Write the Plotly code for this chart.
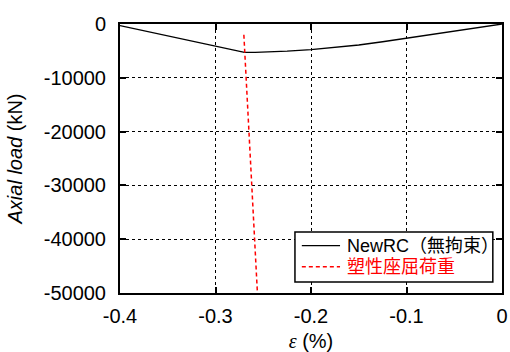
import plotly.graph_objects as go

# NewRC (unconfined) curve
eps_newrc = [-0.4, -0.2697, -0.2585, -0.25, -0.225, -0.2, -0.175, -0.15, -0.125, -0.1, -0.075, -0.05, -0.025, 0.0]
load_newrc = [-300, -5260, -5260, -5230, -5050, -4780, -4400, -3900, -3300, -2620, -2000, -1350, -680, 0]

# Plastic buckling load line
eps_pb = [-0.2703, -0.2561]
load_pb = [-2000, -50000]

x_ticks = [-0.4, -0.3, -0.2, -0.1, 0]
x_ticklabels = ["-0.4", "-0.3", "-0.2", "-0.1", "0"]
y_ticks = [0, -10000, -20000, -30000, -40000, -50000]
y_ticklabels = ["0", "-10000", "-20000", "-30000", "-40000", "-50000"]

series_names = ["NewRC（無拘束）", "塑性座屈荷重"]
series_colors = ["black", "red"]

FONT = "Arial, 'Liberation Sans', 'Noto Sans CJK JP', sans-serif"

fig = go.Figure()
fig.add_trace(go.Scatter(x=eps_newrc, y=load_newrc, mode="lines",
                         line=dict(color=series_colors[0], width=1.3),
                         name=series_names[0], showlegend=False))
fig.add_trace(go.Scatter(x=eps_pb, y=load_pb, mode="lines",
                         line=dict(color=series_colors[1], width=1.5, dash="4px,3px"),
                         name=series_names[1], showlegend=False))

axis_common = dict(showline=True, linecolor="black", linewidth=2, mirror="ticks",
                   ticks="inside", ticklen=6, tickwidth=2, tickcolor="black",
                   showgrid=True, gridcolor="black", gridwidth=1, griddash="dot",
                   zeroline=False, automargin=False,
                   tickfont=dict(size=20, color="black", family=FONT))

fig.update_xaxes(range=[-0.4, 0], tickvals=x_ticks, ticktext=x_ticklabels,
                 title=dict(text='<i><span style="font-family:\'Liberation Serif\', serif">ε</span></i> (%)',
                            font=dict(size=20, color="black", family=FONT), standoff=8),
                 ticklabelstandoff=4, **axis_common)
fig.update_yaxes(range=[-50000, 0], tickvals=y_ticks, ticktext=y_ticklabels,
                 title=dict(text="<i>Axial load</i> (kN)",
                            font=dict(size=20, color="black", family=FONT), standoff=16),
                 ticklabelstandoff=8, **axis_common)

# Legend drawn as box + sample lines + text (paper coordinates)
fig.add_shape(type="rect", xref="paper", yref="paper", x0=0.458, x1=0.976, y0=0.041, y1=0.227,
              line=dict(color="black", width=1.5), fillcolor="white", layer="above")
fig.add_shape(type="line", xref="paper", yref="paper", x0=0.476, x1=0.576, y0=0.176, y1=0.176,
              line=dict(color=series_colors[0], width=1.3), layer="above")
fig.add_shape(type="line", xref="paper", yref="paper", x0=0.476, x1=0.576, y0=0.098, y1=0.098,
              line=dict(color=series_colors[1], width=1.5, dash="4px,3px"), layer="above")
for name, color, yy in zip(series_names, series_colors, [0.176, 0.098]):
    fig.add_annotation(xref="paper", yref="paper", x=0.589, y=yy, xanchor="left", yanchor="middle",
                       text=name, showarrow=False, font=dict(size=18, color=color, family=FONT))

fig.update_layout(
    width=510, height=352,
    margin=dict(l=120, r=8, t=24, b=59),
    plot_bgcolor="white", paper_bgcolor="white",
    font=dict(family=FONT, size=20, color="black"),
    showlegend=False,
)

fig.write_html("out.html", config={"displayModeBar": False},
               post_script="document.body.style.margin='0';document.body.style.overflow='hidden';")
